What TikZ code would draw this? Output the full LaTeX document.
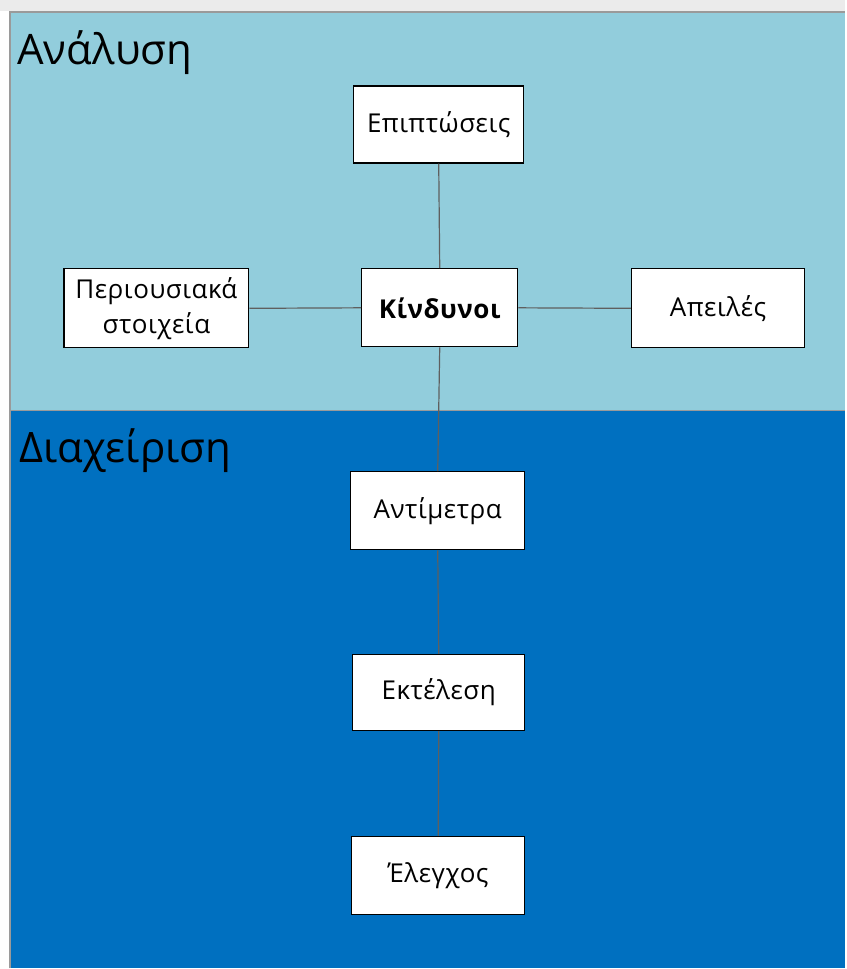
\documentclass[tikz,border=0pt]{standalone}
\usepackage{fontspec}
\setmainfont{Open Sans}
\newfontfamily\boxfont[LetterSpace=2]{Open Sans}
\definecolor{analysisblue}{HTML}{92CDDC}
\definecolor{managementblue}{HTML}{0070C0}
\definecolor{linkgray}{HTML}{5F5F5F}
\definecolor{framegray}{HTML}{9A9A9A}
\begin{document}
\begin{tikzpicture}[x=1pt,y=-1pt,
  box/.style={draw=black,line width=1.3pt,fill=white,inner sep=0pt,
    font=\boxfont\fontsize{26}{35}\selectfont,align=center},
  link/.style={draw=linkgray,line width=1.2pt},
  zonelabel/.style={anchor=base west,inner sep=0pt,font=\fontsize{42}{48}\selectfont}]
  % page and panels
  \fill[white] (0,0) rectangle (846,969);
  \fill[black!8] (0,0) rectangle (846,11);
  \fill[analysisblue] (10,12) rectangle (846,411);
  \fill[managementblue] (10,411) rectangle (846,969);
  \draw[framegray,line width=1.2pt] (10,969) -- (10,12) -- (846,12);
  \draw[framegray,line width=0.8pt] (10,411) -- (846,411);
  % zone titles
  \node[zonelabel] (analysis) at (17,65) {Ανάλυση};
  \node[zonelabel] (management) at (19,463) {Διαχείριση};
  % boxes
  \node[box,minimum width=170pt,minimum height=77pt] (impact) at (439,124.5) {Επιπτώσεις};
  \node[box,minimum width=185pt,minimum height=79pt] (assets) at (156.5,308.5) {Περιουσιακά\\στοιχεία};
  \node[box,minimum width=156pt,minimum height=78pt,font=\boxfont\fontsize{26}{35}\selectfont\bfseries] (risks) at (440,308) {Κίνδυνοι};
  \node[box,minimum width=173pt,minimum height=79pt] (threats) at (718.5,308.5) {Απειλές};
  \node[box,minimum width=174pt,minimum height=78pt] (measures) at (438,511) {Αντίμετρα};
  \node[box,minimum width=172pt,minimum height=76pt] (execution) at (439,693) {Εκτέλεση};
  \node[box,minimum width=173pt,minimum height=78pt] (control) at (438.5,876) {Έλεγχος};
  % connectors
  \draw[link] (impact.south) -- (risks.north);
  \draw[link] (assets.east) -- (risks.west);
  \draw[link] (risks.east) -- (threats.west);
  \draw[link] (risks.south) -- (measures.north);
  \draw[link] (measures.south) -- (execution.north);
  \draw[link] (execution.south) -- (control.north);
\end{tikzpicture}
\end{document}
